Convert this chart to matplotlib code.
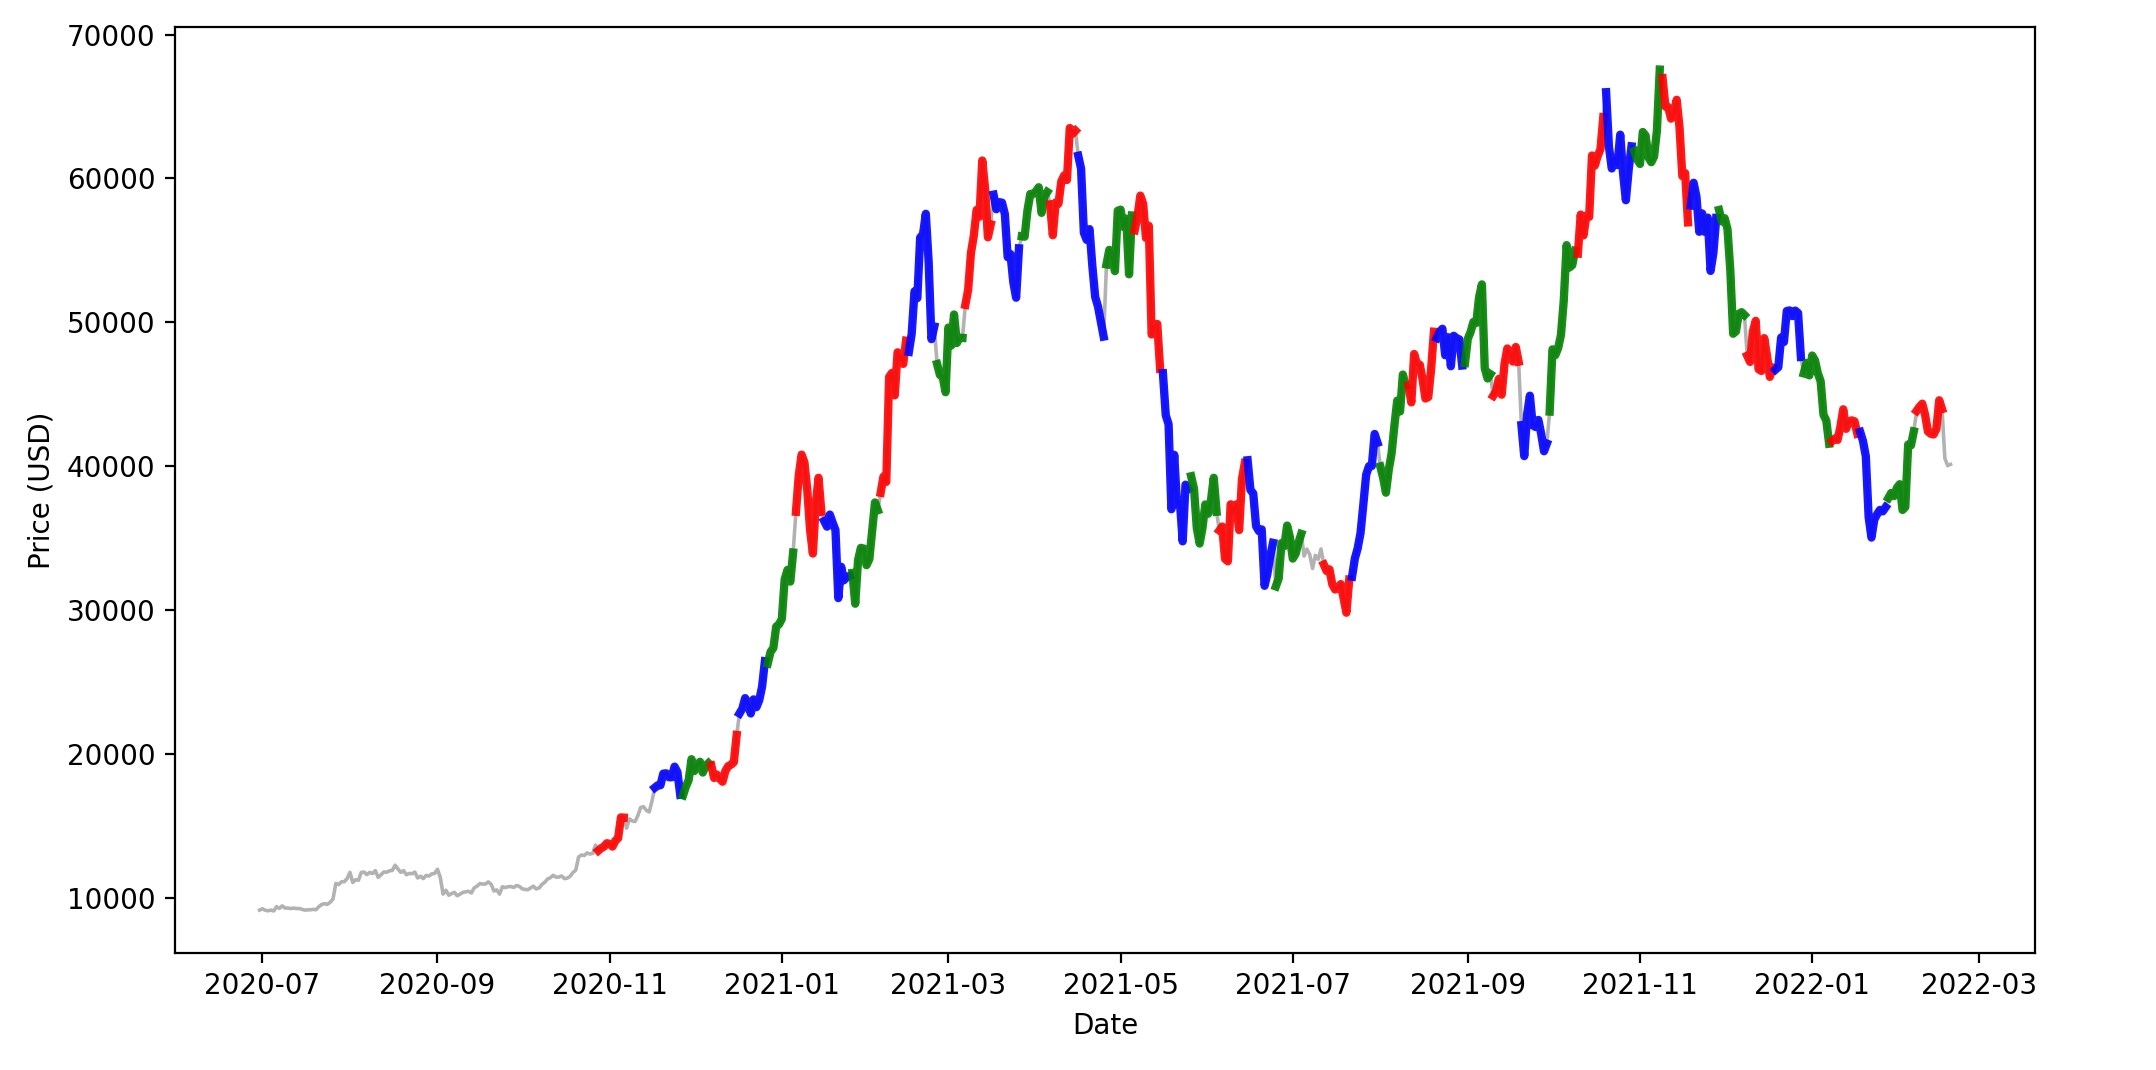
import matplotlib
matplotlib.use("Agg")
import matplotlib.pyplot as plt
import pandas as pd

# daily closing prices (USD), one list per month
btc_2020_06 = [9137]
btc_2020_07 = [9228, 9123, 9087, 9132, 9073, 9375, 9252, 9428, 9277, 9278,
               9240, 9276, 9243, 9243, 9192, 9132, 9151, 9159, 9185, 9164,
               9374, 9525, 9581, 9536, 9677, 9905, 10990, 10913, 11100, 11111, 11323]
btc_2020_08 = [11759, 11053, 11246, 11205, 11747, 11779, 11601, 11754, 11675, 11878,
               11410, 11585, 11784, 11768, 11865, 11893, 12254, 11991, 11758, 11878,
               11592, 11681, 11664, 11774, 11366, 11488, 11323, 11542, 11507, 11655, 11681]
btc_2020_09 = [11971, 11414, 10246, 10512, 10169, 10280, 10370, 10131, 10242, 10364,
               10400, 10442, 10323, 10680, 10796, 10974, 10948, 10944, 11094, 10939,
               10463, 10538, 10247, 10755, 10702, 10755, 10775, 10709, 10845, 10784]
btc_2020_10 = [10620, 10575, 10550, 10677, 10793, 10604, 10668, 10916, 11065, 11296,
               11384, 11555, 11425, 11430, 11505, 11322, 11358, 11484, 11742, 11917,
               12823, 12965, 12931, 13108, 13031, 13075, 13654, 13271, 13437, 13546, 13781]
btc_2020_11 = [13737, 13550, 13950, 14133, 15579, 15565, 14833, 15479, 15332, 15290,
               15701, 16276, 16317, 16068, 15955, 16716, 17645, 17804, 17817, 18621,
               18642, 18370, 18364, 19107, 18732, 17150, 17108, 17718, 18177, 19625]
btc_2020_12 = [18802, 19201, 19445, 18699, 19154, 19345, 19191, 18321, 18553, 18264,
               18058, 18803, 19142, 19246, 19417, 21310, 22805, 23137, 23869, 23477,
               22803, 23783, 23241, 23736, 24664, 26437, 26272, 27084, 27362, 28841, 29002]
btc_2021_01 = [29374, 32127, 32782, 31971, 33992, 36824, 39371, 40797, 40254, 38356,
               35566, 33922, 37316, 39187, 36825, 36178, 35792, 36630, 36069, 35548,
               30825, 33005, 32067, 32289, 32366, 32569, 30432, 33467, 34316, 34269, 33114]
btc_2021_02 = [33538, 35510, 37473, 36926, 38144, 39266, 38903, 46196, 46481, 44919,
               47910, 47504, 47105, 48717, 47945, 49199, 52149, 51679, 55888, 56100,
               57539, 54207, 48825, 49705, 47093, 46339, 46188, 45137]
btc_2021_03 = [49631, 48378, 50538, 48561, 48927, 48912, 51206, 52246, 54824, 56008,
               57805, 57332, 61243, 59302, 55907, 56804, 58870, 57858, 58346, 58313,
               57523, 54529, 54738, 52774, 51704, 55137, 55974, 55947, 57750, 58918, 58918]
btc_2021_04 = [59095, 59384, 57604, 58760, 59057, 58192, 56048, 58323, 58245, 59793,
               60204, 59893, 63503, 63110, 63314, 61572, 60683, 56216, 55724, 56473,
               53906, 51763, 51094, 50050, 49004, 54022, 55033, 54824, 53555, 57750]
btc_2021_05 = [57828, 56631, 57200, 53333, 57424, 56396, 57356, 58803, 58232, 55859,
               56704, 49150, 49716, 49880, 46760, 46456, 43538, 42910, 37002, 40783,
               37304, 37536, 34771, 38706, 38403, 39294, 38436, 35697, 34616, 35678, 37333]
btc_2021_06 = [36685, 37575, 39188, 36825, 35520, 35797, 33552, 33380, 37345, 36702,
               37334, 35553, 39097, 40218, 40406, 38348, 38092, 35819, 35484, 35600,
               31676, 32505, 33723, 34662, 31637, 32186, 34649, 34434, 35867, 35040]
btc_2021_07 = [33572, 33897, 34668, 35287, 33746, 34235, 33855, 32877, 33798, 33520,
               34240, 33155, 32702, 32822, 31780, 31421, 31533, 31796, 30817, 29807,
               32110, 32313, 33581, 34292, 35350, 37337, 39406, 39995, 40008, 42235, 41626]
btc_2021_08 = [39974, 39201, 38152, 39747, 40869, 42816, 44555, 43798, 46365, 45585,
               45593, 44428, 47793, 47096, 47047, 46004, 44695, 44801, 46717, 49339,
               48906, 49321, 49546, 47706, 48960, 46942, 49058, 48897, 48806, 46991, 47166]
btc_2021_09 = [48847, 49327, 50025, 49944, 51753, 52633, 46811, 46091, 46391, 44883,
               45201, 46063, 44963, 47092, 48177, 47783, 47267, 48278, 47260, 42844,
               40694, 43575, 44896, 42840, 42717, 43208, 42235, 41034, 41564, 43791]
btc_2021_10 = [48116, 47711, 48200, 49113, 51515, 55361, 53805, 53967, 54968, 54772,
               57485, 56041, 57401, 57322, 61593, 60892, 61553, 62026, 64262, 65993,
               62210, 60692, 61393, 60931, 63039, 60364, 58483, 60622, 62228, 61889, 61319]
btc_2021_11 = [61004, 63226, 62970, 61453, 61125, 61528, 63327, 67566, 66971, 64996,
               64950, 64155, 64469, 65466, 63558, 60161, 60369, 56943, 58119, 59697,
               58730, 56289, 57570, 56281, 57274, 53570, 54816, 57248, 57806, 57005]
btc_2021_12 = [57229, 56477, 53599, 49201, 49368, 50582, 50700, 50504, 47672, 47243,
               49362, 50098, 46737, 46613, 48896, 47666, 46203, 46848, 46707, 46880,
               48936, 48628, 50784, 50822, 50429, 50809, 50640, 47588, 46444, 47178, 46306]
btc_2022_01 = [47686, 47345, 46458, 45897, 43569, 43160, 41558, 41734, 41912, 41821,
               42736, 43949, 42591, 43099, 43177, 43113, 42250, 42375, 41744, 40681,
               36457, 35030, 36276, 36654, 36954, 36852, 37138, 37784, 38138, 37917, 38483]
btc_2022_02 = [38743, 36952, 37154, 41501, 41441, 42412, 43841, 44118, 44339, 43565,
               42407, 42244, 42197, 42586, 44576, 43961, 40538, 40030, 40122]

months = [("2020-06-30", btc_2020_06), ("2020-07-01", btc_2020_07), ("2020-08-01", btc_2020_08),
          ("2020-09-01", btc_2020_09), ("2020-10-01", btc_2020_10), ("2020-11-01", btc_2020_11),
          ("2020-12-01", btc_2020_12), ("2021-01-01", btc_2021_01), ("2021-02-01", btc_2021_02),
          ("2021-03-01", btc_2021_03), ("2021-04-01", btc_2021_04), ("2021-05-01", btc_2021_05),
          ("2021-06-01", btc_2021_06), ("2021-07-01", btc_2021_07), ("2021-08-01", btc_2021_08),
          ("2021-09-01", btc_2021_09), ("2021-10-01", btc_2021_10), ("2021-11-01", btc_2021_11),
          ("2021-12-01", btc_2021_12), ("2022-01-01", btc_2022_01), ("2022-02-01", btc_2022_02)]

# highlighted 10-day windows: start date and colour
SEG_DAYS = 10
seg_starts = ["2020-10-28", "2020-11-17", "2020-11-27", "2020-12-07", "2020-12-17", "2020-12-27",
              "2021-01-06", "2021-01-16", "2021-01-26", "2021-02-05", "2021-02-15", "2021-02-25",
              "2021-03-07", "2021-03-17", "2021-03-27", "2021-04-06", "2021-04-16", "2021-04-26",
              "2021-05-06", "2021-05-16", "2021-05-26", "2021-06-05", "2021-06-15", "2021-06-25",
              "2021-07-12", "2021-07-22", "2021-08-01", "2021-08-11", "2021-08-21", "2021-08-31",
              "2021-09-10", "2021-09-20", "2021-09-30", "2021-10-10", "2021-10-20", "2021-10-30",
              "2021-11-09", "2021-11-19", "2021-11-29", "2021-12-09", "2021-12-19", "2021-12-29",
              "2022-01-08", "2022-01-18", "2022-01-28", "2022-02-07"]
seg_colors = ["red", "blue", "green", "red", "blue", "green",
              "red", "blue", "green", "red", "blue", "green",
              "red", "blue", "green", "red", "blue", "green",
              "red", "blue", "green", "red", "blue", "green",
              "red", "blue", "green", "red", "blue", "green",
              "red", "blue", "green", "red", "blue", "green",
              "red", "blue", "green", "red", "blue", "green",
              "red", "blue", "green", "red"]

parts = []
for start, vals in months:
    parts.append(pd.Series(vals, index=pd.date_range(start, periods=len(vals), freq="D")))
price = pd.concat(parts)

fig = plt.figure(figsize=(10.78, 5.35), dpi=200)
ax = fig.add_axes([0.0812, 0.1093, 0.8627, 0.8650])

ax.plot(price.index, price.values, color="gray", alpha=0.6, linewidth=1.3)

for start, col in zip(seg_starts, seg_colors):
    s = pd.Timestamp(start)
    e = s + pd.Timedelta(days=SEG_DAYS - 1)
    win = price[(price.index >= s) & (price.index <= e)]
    ax.plot(win.index, win.values, color=col, alpha=0.9, linewidth=3.0)

ax.set_xlabel("Date")
ax.set_ylabel("Price (USD)")

fig.savefig("out.png", dpi=200)
